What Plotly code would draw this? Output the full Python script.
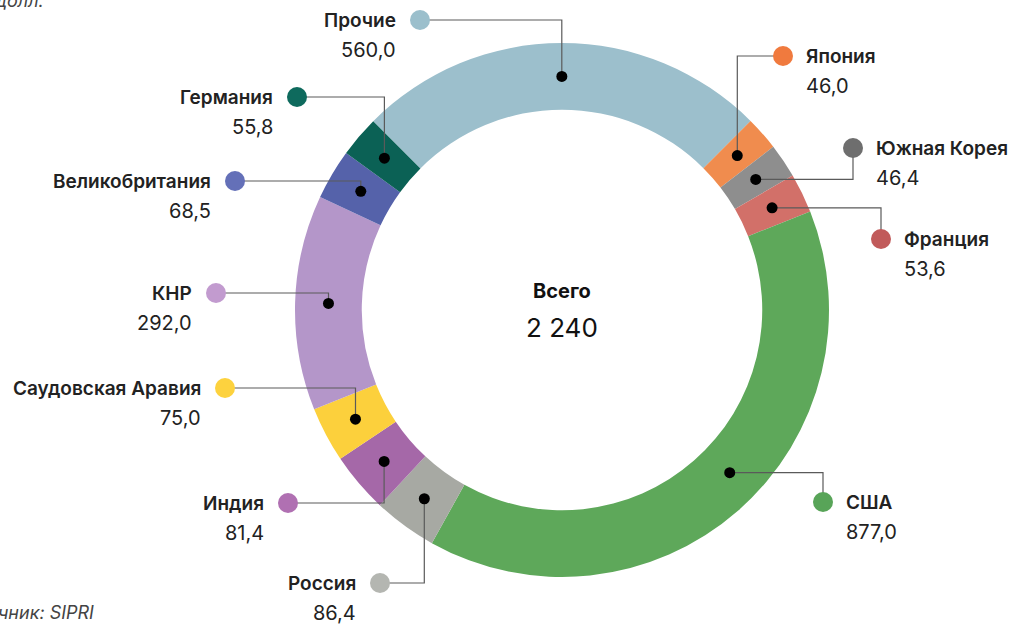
import math
import plotly.graph_objects as go

# ---------------- data ----------------
countries = ["Прочие", "Япония", "Южная Корея", "Франция", "США", "Россия",
             "Индия", "Саудовская Аравия", "КНР", "Великобритания", "Германия"]
values = [560.0, 46.0, 46.4, 53.6, 877.0, 86.4, 81.4, 75.0, 292.0, 68.5, 55.8]
value_labels = ["560,0", "46,0", "46,4", "53,6", "877,0", "86,4",
                "81,4", "75,0", "292,0", "68,5", "55,8"]
total_title = "Всего"
total_label = "2 240"
source_text = "Источник: SIPRI"
unit_text = "млрд долл."

# ---------------- styles / layout ----------------
colors = ["#9cbfcc", "#f08c4e", "#8e8e8e", "#d27069", "#5ea85a", "#a7a9a3",
          "#a568a8", "#fcd03c", "#b496c9", "#5562aa", "#0b6155"]
dot_colors = ["#9bbfcc", "#f07a3e", "#6e6e6e", "#c15a5a", "#58a458", "#b4b6b1",
              "#b070b2", "#fdd23e", "#c29bcf", "#6470b8", "#0e6a5d"]

W, H = 1010, 624
CX, CY, R_OUT = 562, 310, 267
HOLE = 0.75
START_ANGLE = -45
R_MID = R_OUT * (1 + HOLE) / 2

# label layout: circle position, side, elbow type, anchor fraction within slice
label_pos = {
    "Прочие":            (420, 20, "L", "h", 0.5),
    "Япония":            (783, 56, "R", "h", 0.5),
    "Южная Корея":       (853, 148, "R", "v", 0.5),
    "Франция":           (881, 239, "R", "v", 0.5),
    "США":               (823, 502, "R", "v", 0.467),
    "Россия":            (380, 583, "L", "h", 0.5),
    "Индия":             (288, 503, "L", "h", 0.5),
    "Саудовская Аравия": (225, 388, "L", "h", 0.5),
    "КНР":               (216, 293, "L", "h", 0.5),
    "Великобритания":    (235, 181, "L", "h", 0.5),
    "Германия":          (297, 97, "L", "h", 0.5),
}

FONT = "Inter"
TEXT_COLOR = "#222222"

fig = go.Figure()

fig.add_trace(go.Pie(
    labels=countries, values=values, sort=False, direction="clockwise",
    rotation=START_ANGLE, hole=HOLE, textinfo="none", hoverinfo="skip",
    marker=dict(colors=colors, line=dict(width=0)), showlegend=False,
    domain=dict(x=[(CX - R_OUT) / W, (CX + R_OUT) / W],
                y=[(H - CY - R_OUT) / H, (H - CY + R_OUT) / H]),
))

# invisible cartesian axes in pixel units for overlays
fig.add_trace(go.Scatter(x=[0, W], y=[0, H], mode="markers",
                         marker=dict(opacity=0), hoverinfo="skip", showlegend=False))

annotations = []
total = sum(values)
cum = 0.0
lines, dots, circles = [], [], []
for name, v, vl, dc in zip(countries, values, value_labels, dot_colors):
    lx, ly, side, elbow, frac = label_pos[name]
    ang = math.radians(START_ANGLE + 360 * (cum + v * frac) / total)
    cum += v
    dx = CX + R_MID * math.sin(ang)
    dy = CY - R_MID * math.cos(ang)
    corner = (dx, ly) if elbow == "h" else (lx, dy)
    lines.append(dict(type="path", xref="x", yref="y",
                      path=f"M {lx},{ly} L {corner[0]:.1f},{corner[1]:.1f} L {dx:.1f},{dy:.1f}",
                      line=dict(color="#5a5a5a", width=1.2), layer="above"))
    dots.append(dict(type="circle", xref="x", yref="y", x0=dx - 5.5, x1=dx + 5.5,
                     y0=dy - 5.5, y1=dy + 5.5, fillcolor="#000000",
                     line=dict(width=0), layer="above"))
    circles.append(dict(type="circle", xref="x", yref="y", x0=lx - 10, x1=lx + 10,
                        y0=ly - 10, y1=ly + 10, fillcolor=dc,
                        line=dict(width=0), layer="above"))
    if side == "L":
        tx, xa = lx - 22, "right"
    else:
        tx, xa = lx + 21, "left"
    annotations.append(dict(x=tx, y=ly, xref="x", yref="y", text=name, showarrow=False,
                            xanchor=xa, yanchor="middle",
                            font=dict(family=FONT, size=19, color=TEXT_COLOR, weight=600)))
    annotations.append(dict(x=tx, y=ly + 30, xref="x", yref="y", text=vl, showarrow=False,
                            xanchor=xa, yanchor="middle",
                            font=dict(family=FONT, size=20, color=TEXT_COLOR, weight=400)))

shapes = lines + circles + dots

annotations.append(dict(x=CX, y=291, xref="x", yref="y", text=total_title, showarrow=False,
                        xanchor="center", yanchor="middle",
                        font=dict(family=FONT, size=20, color="#111111", weight=700)))
annotations.append(dict(x=CX, y=327, xref="x", yref="y", text=total_label, showarrow=False,
                        xanchor="center", yanchor="middle",
                        font=dict(family=FONT, size=26, color="#111111", weight=400)))
annotations.append(dict(x=96 / W, y=1 - 612 / H, xref="paper", yref="paper",
                        text=f"<i>{source_text}</i>",
                        showarrow=False, xanchor="right", yanchor="middle",
                        font=dict(family=FONT, size=18, color="#444444")))
annotations.append(dict(x=46 / W, y=1 - 1 / H, xref="paper", yref="paper",
                        text=f"<i>{unit_text}</i>",
                        showarrow=False, xanchor="right", yanchor="middle",
                        font=dict(family=FONT, size=18, color="#444444")))

fig.update_layout(
    width=W, height=H, margin=dict(l=0, r=0, t=0, b=0),
    paper_bgcolor="white", plot_bgcolor="white",
    xaxis=dict(range=[0, W], visible=False, fixedrange=True),
    yaxis=dict(range=[H, 0], visible=False, fixedrange=True),
    shapes=shapes, annotations=annotations, showlegend=False,
)

fig.write_html("out.html", config={"displayModeBar": False},
               post_script="document.body.style.margin='0px';document.body.style.overflow='hidden';")
